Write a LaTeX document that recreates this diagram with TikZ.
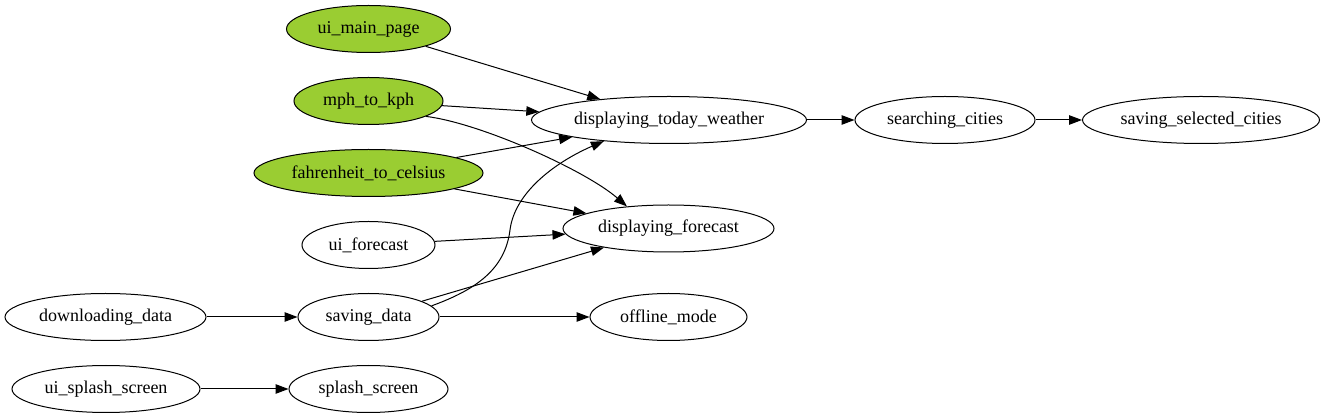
\documentclass[tikz,border=0pt]{standalone}
\usepackage{fontspec}
\setmainfont{Liberation Serif}
\usetikzlibrary{shapes.geometric,arrows.meta}
\definecolor{gvgreen}{HTML}{9ACD32}
\tikzset{
  gvnode/.style={ellipse,draw=black,line width=1pt,inner sep=0pt,minimum height=47pt,font=\fontsize{18}{20}\selectfont},
  gvfill/.style={gvnode,fill=gvgreen},
  gvedge/.style={line width=1pt,-{Triangle[length=13pt,width=9.5pt]}}
}
\begin{document}
\begin{tikzpicture}[x=1pt,y=-1pt]
\path[use as bounding box] (0,0) rectangle (1326,419);
% rank 0
\node[gvnode,minimum width=201pt] (dl) at (105.5,317) {downloading\_data};
\node[gvnode,minimum width=188pt] (uiss) at (106,389) {ui\_splash\_screen};
% rank 1
\node[gvfill,minimum width=164pt] (uimain) at (368.5,29) {ui\_main\_page};
\node[gvfill,minimum width=149pt] (mph) at (368.5,101) {mph\_to\_kph};
\node[gvfill,minimum width=229pt] (fahr) at (368.5,173) {fahrenheit\_to\_celsius};
\node[gvnode,minimum width=133pt] (uifc) at (368.5,245) {ui\_forecast};
\node[gvnode,minimum width=141pt] (sd) at (368.5,317) {saving\_data};
\node[gvnode,minimum width=159pt] (ss) at (368.5,389) {splash\_screen};
% rank 2
\node[gvnode,minimum width=275pt] (dtw) at (669,120) {displaying\_today\_weather};
\node[gvnode,minimum width=211pt] (df) at (668.5,228.5) {displaying\_forecast};
\node[gvnode,minimum width=157pt] (om) at (668.5,317) {offline\_mode};
% rank 3, 4
\node[gvnode,minimum width=180pt] (sc) at (945,120) {searching\_cities};
\node[gvnode,minimum width=237pt] (ssc) at (1201,120) {saving\_selected\_cities};
\coordinate (sbend) at (510,230);
% edges
\draw[gvedge] (uimain) -- (dtw);
\draw[gvedge] (mph) -- (dtw);
\draw[gvedge] (mph.-15) .. controls (480,123) and (585,170) .. (df.152);
\draw[gvedge] (fahr) -- (dtw);
\draw[gvedge] (fahr) -- (df);
\draw[gvedge] (uifc) -- (df);
\draw[gvedge] (sd.10) .. controls (475,290) and (505,270) .. (sbend) .. controls (515,190) and (560,160) .. (dtw.198);
\draw[gvedge] (sd) -- (df);
\draw[gvedge] (sd) -- (om);
\draw[gvedge] (dl) -- (sd);
\draw[gvedge] (uiss) -- (ss);
\draw[gvedge] (dtw) -- (sc);
\draw[gvedge] (sc) -- (ssc);
\end{tikzpicture}
\end{document}
